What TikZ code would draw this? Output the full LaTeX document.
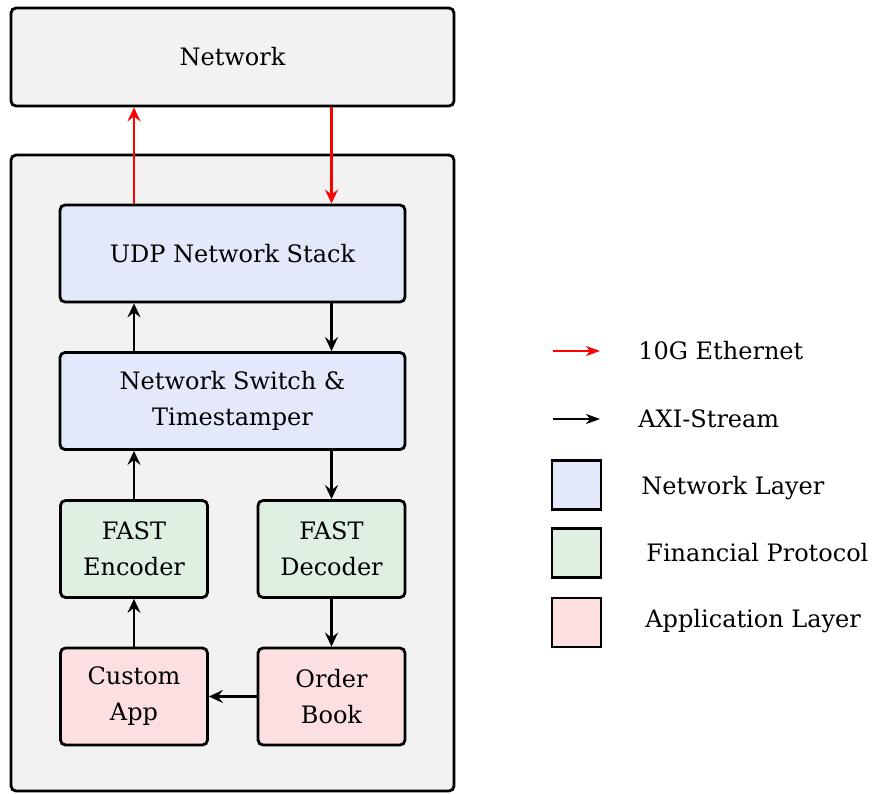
\documentclass[tikz,border=0pt]{standalone}
\usepackage{fontspec}
\setmainfont{DejaVu Serif}
\usetikzlibrary{arrows.meta}

\definecolor{boxgray}{RGB}{242,242,242}
\definecolor{netblue}{RGB}{227,232,250}
\definecolor{protgreen}{RGB}{223,239,226}
\definecolor{apppink}{RGB}{252,224,225}

\begin{document}
\begin{tikzpicture}[x=0.5pt,y=-0.5pt]

\tikzstyle{every node}=[font=\fontsize{12}{18}\selectfont]
\tikzstyle{block}=[draw, line width=1.4pt, rounded corners=2.5pt, align=center, inner sep=0pt]
\tikzstyle{wide}=[block, fill=netblue, minimum width=172.5pt, minimum height=48.5pt]
\tikzstyle{small}=[block, minimum width=73.5pt, minimum height=48.5pt]
\tikzstyle{legbox}=[draw, line width=1.4pt, minimum size=24.5pt, inner sep=0pt]
\tikzstyle{legtext}=[anchor=west, inner sep=0pt]
\tikzstyle{eth}=[->, >={Stealth[length=7pt,width=6.5pt,inset=2.5pt]}, line width=1.4pt, red]
\tikzstyle{axi}=[->, >={Stealth[length=7pt,width=6.5pt,inset=2.5pt]}, line width=1.4pt]

\useasboundingbox (0,0) rectangle (873,793);

\pgfmathsetmacro\xl{134}
\pgfmathsetmacro\xr{331.5}
\pgfmathsetmacro\xm{232.5}

% network and fpga
\node[block, fill=boxgray, minimum width=221.5pt, minimum height=49pt] (network) at (\xm,57) {Network};
\node[block, fill=boxgray, minimum width=221.5pt, minimum height=318pt] (fpga) at (\xm,473) {};

\pgfmathsetmacro\y{253.5}
\node[wide] (udp) at (\xm,\y) {UDP Network Stack};

\pgfmathsetmacro\y{\y+147.5}
\node[wide] (switch) at (\xm,\y) {Network Switch \&\\Timestamper};

\pgfmathsetmacro\y{\y+148}
\node[small, fill=protgreen] (encoder) at (\xl,\y) {FAST\\Encoder};
\node[small, fill=protgreen] (decoder) at (\xr,\y) {FAST\\Decoder};

\pgfmathsetmacro\y{\y+147.5}
\node[small, fill=apppink] (custom) at (\xl,\y) {Custom\\App};
\node[small, fill=apppink] (order) at (\xr,\y) {Order\\Book};

\draw[eth] (encoder |- udp.north) -- (encoder |- network.south);
\draw[eth] (decoder |- network.south) -- (decoder |- udp.north);

\draw[axi] (encoder |- switch.north) -- (encoder |- udp.south);
\draw[axi] (decoder |- udp.south) -- (decoder |- switch.north);
\draw[axi] (encoder.north) -- (encoder |- switch.south);
\draw[axi] (decoder |- switch.south) -- (decoder.north);
\draw[axi] (custom.north) -- (encoder.south);
\draw[axi] (decoder.south) -- (order.north);
\draw[axi] (order.west) -- (custom.east);

% legend
\coordinate (ethA) at (553,351);
\coordinate (ethB) at (600,351);
\draw[->, >={Stealth[length=7pt,width=5pt,inset=2pt]}, line width=0.9pt, red] (ethA) -- (ethB);
\node[legtext] (ethtext) at (638,351) {10G Ethernet};

\coordinate (axiA) at (553,419);
\coordinate (axiB) at (600,419);
\draw[->, >={Stealth[length=7pt,width=5pt,inset=2pt]}, line width=0.9pt] (axiA) -- (axiB);
\node[legtext] (axitext) at (638,419) {AXI-Stream};

\node[legbox, fill=netblue] (netkey) at (576.5,485) {};
\node[legtext] (nettext) at (641,488) {Network Layer};

\node[legbox, fill=protgreen] (protkey) at (576.5,553) {};
\node[legtext] (prottext) at (646,553) {Financial Protocol};

\node[legbox, fill=apppink] (appkey) at (576.5,622.5) {};
\node[legtext] (apptext) at (645,621) {Application Layer};

\end{tikzpicture}
\end{document}
